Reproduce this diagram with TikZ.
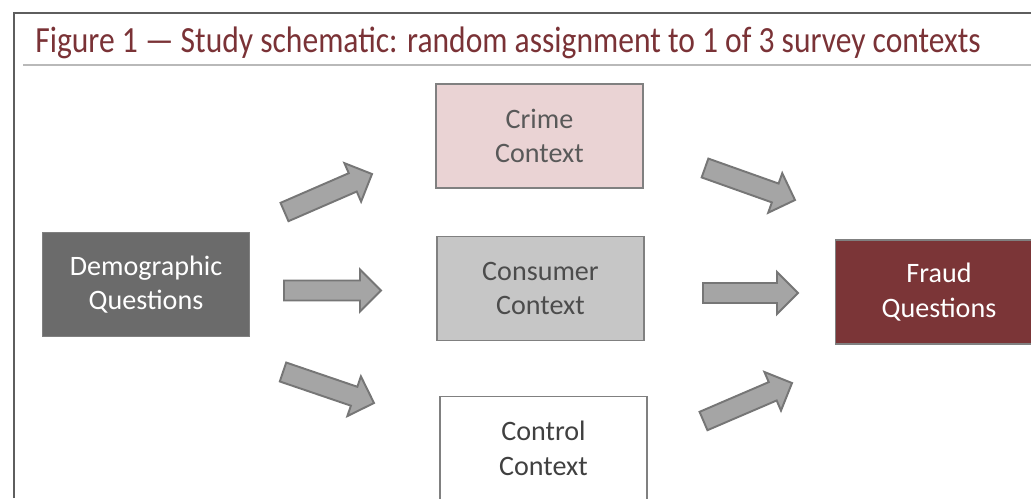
\documentclass[tikz,border=0pt]{standalone}
\usepackage{fontspec}
\setmainfont{Carlito}
\usetikzlibrary{calc}

\definecolor{titlered}{HTML}{7A3236}
\definecolor{frameline}{HTML}{5E5E5E}
\definecolor{boxline}{HTML}{808080}
\definecolor{demofill}{HTML}{6B6B6B}
\definecolor{crimefill}{HTML}{EAD3D4}
\definecolor{consumerfill}{HTML}{C6C6C6}
\definecolor{fraudfill}{HTML}{7B3537}
\definecolor{arrowfill}{HTML}{A5A5A5}
\definecolor{arrowline}{HTML}{767676}

\tikzset{
    box/.style={draw=boxline, line width=0.9pt, minimum width=4.14cm, minimum height=2.08cm,
        align=center, inner sep=0pt, font=\fontsize{16}{19.8}\selectfont},
    blockarrow/.style={draw=arrowline, fill=arrowfill, line width=1.1pt, line join=miter,
        to path={
            -- ($(\tikztostart)!0.2cm!90:(\tikztotarget)$)
            -- ($($(\tikztotarget)!0.42cm!(\tikztostart)$)!0.2cm!90:(\tikztotarget)$)
            -- ($($(\tikztotarget)!0.42cm!(\tikztostart)$)!0.42cm!90:(\tikztotarget)$)
            -- (\tikztotarget)
            -- ($($(\tikztotarget)!0.42cm!(\tikztostart)$)!0.42cm!-90:(\tikztotarget)$)
            -- ($($(\tikztotarget)!0.42cm!(\tikztostart)$)!0.2cm!-90:(\tikztotarget)$)
            -- ($(\tikztostart)!0.2cm!-90:(\tikztotarget)$)
            -- cycle}}
}

\begin{document}
\begin{tikzpicture}[x=0.02cm, y=-0.02cm]

        \clip (0,0) rectangle (1031,498);
        \fill[white] (0,0) rectangle (1031,498);

        % Frame and title

        \draw[frameline, line width=1.2pt] (14,498) -- (14,13) -- (1031,13);
        \draw[gray!55, line width=0.8pt] (23,65) -- (1031,65);
        \node[anchor=base west, inner sep=0pt, text=titlered, font=\fontsize{21}{25}\selectfont]
            (title) at (35,52) {\scalebox{0.855}[1]{Figure 1 — Study schematic: random assignment to 1 of 3 survey contexts}};

        % Nodes

        \node[box, fill=demofill, text=white] (demo) at (146,284.5) {Demographic\\Questions};
        \node[box, fill=crimefill, text=black!65] (crime) at (539.5,136) {Crime\\Context};
        \node[box, fill=consumerfill, text=black!70] (consumer) at (540.5,288.5) {Consumer\\Context};
        \node[box, fill=white, text=black!75] (control) at (543.5,448.5) {Control\\Context};
        \node[box, fill=fraudfill, text=white] (fraud) at (939,292) {Fraud\\Questions};

        % Arrow ends

        \coordinate (t1) at (284.5,212);  \coordinate (h1) at (372,174);
        \coordinate (t2) at (284,290.5);  \coordinate (h2) at (381,290.5);
        \coordinate (t3) at (283,372);    \coordinate (h3) at (374,403);
        \coordinate (t4) at (705,168);    \coordinate (h4) at (795,200);
        \coordinate (t5) at (703,293);    \coordinate (h5) at (798,293);
        \coordinate (t6) at (703.5,421);  \coordinate (h6) at (792,383);

        % Edges

        \draw[blockarrow] (t1) to (h1);
        \draw[blockarrow] (t2) to (h2);
        \draw[blockarrow] (t3) to (h3);
        \draw[blockarrow] (t4) to (h4);
        \draw[blockarrow] (t5) to (h5);
        \draw[blockarrow] (t6) to (h6);

    \end{tikzpicture}
\end{document}
